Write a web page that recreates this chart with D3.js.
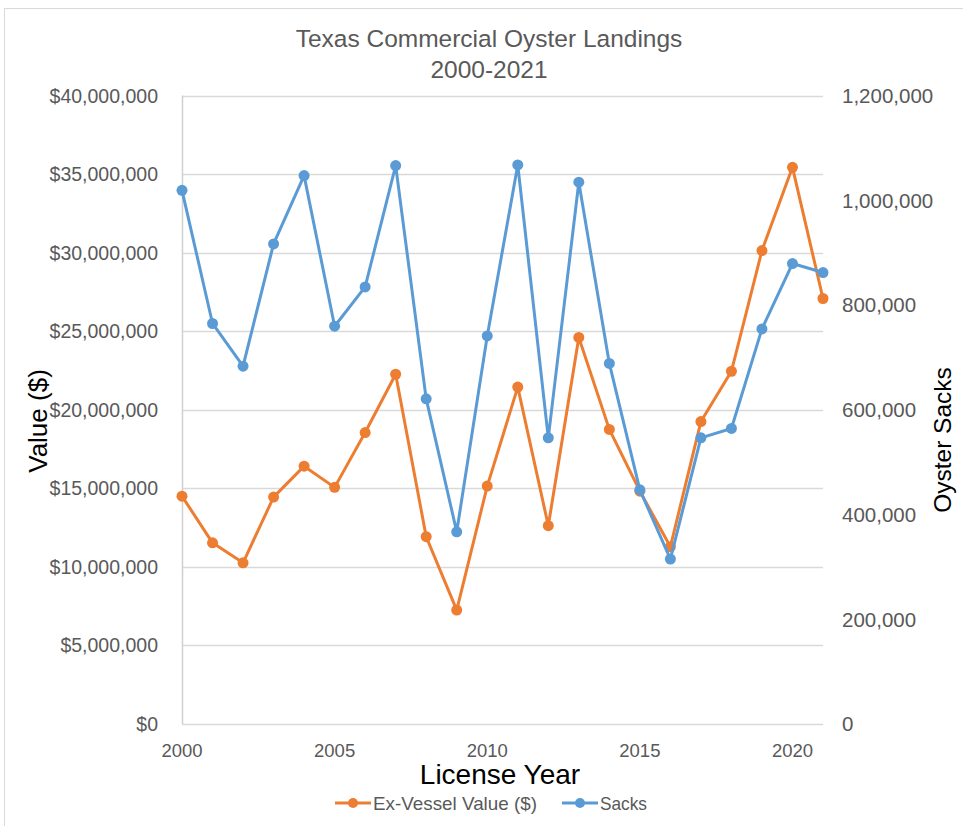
<!DOCTYPE html>
<html>
<head>
<meta charset="utf-8">
<script src="https://cdn.jsdelivr.net/npm/d3@7"></script>
<style>
  html, body { margin: 0; padding: 0; background: #fff; }
  svg { display: block; font-family: "Liberation Sans", Arial, sans-serif; }
</style>
</head>
<body>
<svg id="chart" width="963" height="826"></svg>
<script>
const years = d3.range(2000, 2022);
const valueSeries = [14500000, 11530000, 10260000, 14440000, 16410000, 15060000, 18550000, 22260000, 11920000, 7250000, 15140000, 21440000, 12620000, 24600000, 18750000, 14820000, 11280000, 19250000, 22450000, 30130000, 35430000, 27080000];
const sacksSeries = [1019000, 764700, 683200, 916600, 1047100, 759500, 834600, 1066200, 620800, 367000, 741000, 1067400, 546400, 1034400, 688400, 447200, 314900, 546400, 564300, 754400, 879200, 862000];
const leftTicks = [0, 5000000, 10000000, 15000000, 20000000, 25000000, 30000000, 35000000, 40000000];
const rightTicks = [0, 200000, 400000, 600000, 800000, 1000000, 1200000];
const xTicks = [2000, 2005, 2010, 2015, 2020];
const titleLines = ["Texas Commercial Oyster Landings", "2000-2021"];
const seriesNames = ["Ex-Vessel Value ($)", "Sacks"];
const colors = ["#ED7D31", "#5B9BD5"];

const svg = d3.select("#chart");
const L = 182, R = 823, T = 95.5, B = 724;

svg.append("rect").attr("x", 4.5).attr("y", 8.5).attr("width", 980).attr("height", 840)
  .attr("fill", "#fff").attr("stroke", "#d9d9d9").attr("stroke-width", 1);

const x = d3.scaleLinear().domain([2000, 2021]).range([L, R]);
const yL = d3.scaleLinear().domain([0, 40000000]).range([B, T]);
const yR = d3.scaleLinear().domain([0, 1200000]).range([B, T]);

// gridlines
svg.append("g").selectAll("line").data(leftTicks).join("line")
  .attr("x1", L).attr("x2", R)
  .attr("y1", d => Math.round(yL(d)) + 0.5).attr("y2", d => Math.round(yL(d)) + 0.5)
  .attr("stroke", "#d9d9d9").attr("stroke-width", 1.3);

// left axis line
svg.append("line").attr("x1", L + 0.5).attr("x2", L + 0.5).attr("y1", T).attr("y2", B)
  .attr("stroke", "#d0d0d0").attr("stroke-width", 1.5);

// left ticks
const fmtD = d => "$" + d3.format(",")(d);
svg.append("g").selectAll("text").data(leftTicks).join("text")
  .attr("x", 158).attr("y", d => yL(d)).attr("dy", "0.36em")
  .attr("text-anchor", "end").attr("font-size", 19.5).attr("fill", "#595959")
  .text(fmtD);

// right ticks
svg.append("g").selectAll("text").data(rightTicks).join("text")
  .attr("x", 842).attr("y", d => yR(d)).attr("dy", "0.36em")
  .attr("text-anchor", "start").attr("font-size", 20.5).attr("fill", "#595959")
  .text(d => d3.format(",")(d));

// x ticks
svg.append("g").selectAll("text").data(xTicks).join("text")
  .attr("x", d => x(d)).attr("y", 757)
  .attr("text-anchor", "middle").attr("font-size", 18.5).attr("fill", "#595959")
  .text(d => d);

// title
svg.append("g").selectAll("text").data(titleLines).join("text")
  .attr("x", 489).attr("y", (d, i) => 47 + i * 31)
  .attr("text-anchor", "middle").attr("font-size", 24.5).attr("fill", "#595959")
  .text(d => d);

// axis titles
svg.append("text").attr("transform", "translate(47,421) rotate(-90)")
  .attr("text-anchor", "middle").attr("font-size", 26).attr("fill", "#000")
  .text("Value ($)");
svg.append("text").attr("transform", "translate(951,440) rotate(-90)")
  .attr("text-anchor", "middle").attr("font-size", 24.5).attr("fill", "#000")
  .text("Oyster Sacks");
svg.append("text").attr("x", 500).attr("y", 784)
  .attr("text-anchor", "middle").attr("font-size", 28).attr("fill", "#000")
  .text("License Year");

// series
const series = [
  { vals: valueSeries, y: yL, color: colors[0] },
  { vals: sacksSeries, y: yR, color: colors[1] }
];
series.forEach(s => {
  const line = d3.line().x((d, i) => x(years[i])).y(d => s.y(d));
  svg.append("path").datum(s.vals).attr("d", line)
    .attr("fill", "none").attr("stroke", s.color).attr("stroke-width", 3)
    .attr("stroke-linejoin", "round");
  svg.append("g").selectAll("circle").data(s.vals).join("circle")
    .attr("cx", (d, i) => x(years[i])).attr("cy", d => s.y(d)).attr("r", 5.5)
    .attr("fill", s.color);
});

// legend
const legendItems = [
  { name: seriesNames[0], color: colors[0], x0: 335, tx: 373, w: 164 },
  { name: seriesNames[1], color: colors[1], x0: 562, tx: 600, w: 47 }
];
const lg = svg.append("g");
legendItems.forEach(it => {
  const ly = 803;
  lg.append("line").attr("x1", it.x0).attr("x2", it.x0 + 36).attr("y1", ly).attr("y2", ly)
    .attr("stroke", it.color).attr("stroke-width", 3);
  lg.append("circle").attr("cx", it.x0 + 18).attr("cy", ly).attr("r", 5).attr("fill", it.color);
  lg.append("text").attr("x", it.tx).attr("y", ly).attr("dy", "0.36em")
    .attr("font-size", 19).attr("fill", "#595959")
    .attr("textLength", it.w).attr("lengthAdjust", "spacingAndGlyphs")
    .text(it.name);
});
</script>
</body>
</html>
